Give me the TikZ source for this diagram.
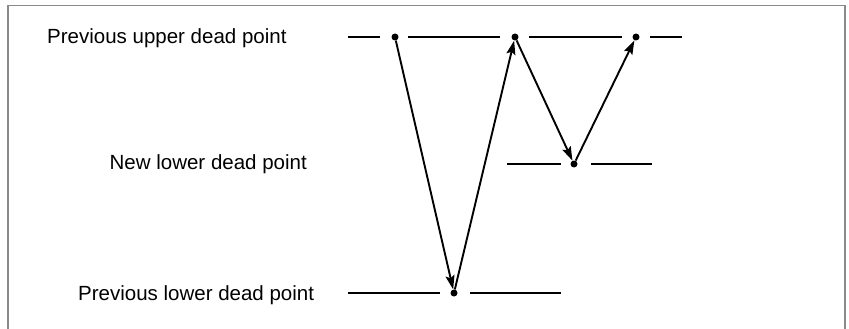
\documentclass[tikz,border=0pt]{standalone}
\usepackage{fontspec}
\setmainfont{Liberation Sans}
\usetikzlibrary{arrows.meta}
\begin{document}
\begin{tikzpicture}[x=1pt,y=-1pt,
  dotpt/.style={circle,fill=black,inner sep=0pt,minimum size=7pt},
  level/.style={line width=2.1pt},
  move/.style={line width=1.9pt,-{Stealth[length=14pt,width=9pt,inset=2.5pt]}},
  lbl/.style={font=\fontsize{20.5}{24}\selectfont,inner sep=0pt}]
\useasboundingbox (0,0) rectangle (849,329);
\draw[line width=1.7pt,color={rgb,255:red,138;green,138;blue,138}] (8,345) -- (8,5.5) -- (845,5.5) -- (845,345);
% dots
\node[dotpt] (u1) at (395,37) {};
\node[dotpt] (u2) at (515,37) {};
\node[dotpt] (u3) at (636,37) {};
\node[dotpt] (m1) at (574,164) {};
\node[dotpt] (b1) at (454,293) {};
% level lines
\draw[level] (348,37) -- (380,37);
\draw[level] (408,37) -- (500,37);
\draw[level] (529,37) -- (622,37);
\draw[level] (650,37) -- (682,37);
\draw[level] (507,164) -- (561,164);
\draw[level] (591,164) -- (652,164);
\draw[level] (348,293) -- (440,293);
\draw[level] (470,293) -- (561,293);
% moves
\draw[move] (u1) -- (b1);
\draw[move] (b1) -- (u2);
\draw[move] (u2) -- (m1);
\draw[move] (m1) -- (u3);
% labels
\node[lbl,anchor=base west] (t1) at (47,44) {Previous upper dead point};
\node[lbl,anchor=base east] (t2) at (307,169) {New lower dead point};
\node[lbl,anchor=base west] (t3) at (78,300) {Previous lower dead point};
\end{tikzpicture}
\end{document}
